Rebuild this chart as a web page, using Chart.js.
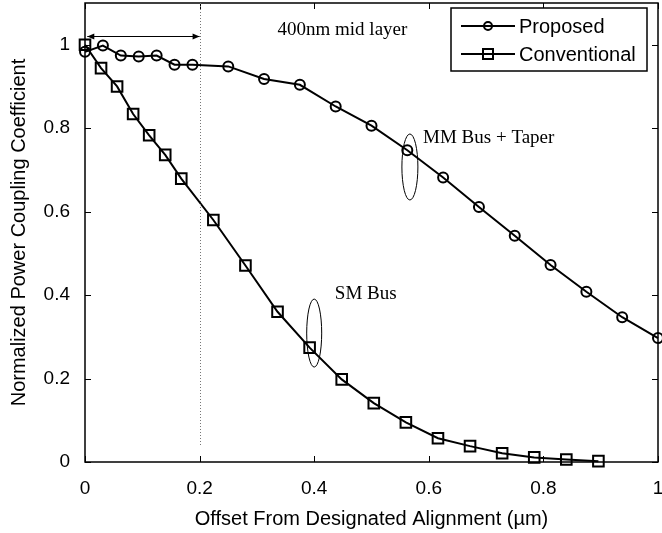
<!DOCTYPE html>
<html>
<head>
<meta charset="utf-8">
<script src="https://cdn.jsdelivr.net/npm/chart.js@4.4.0/dist/chart.umd.min.js"></script>
<style>
html, body { margin: 0; padding: 0; background: #fff; }
#wrap { width: 662px; height: 533px; }
</style>
</head>
<body>
<div id="wrap"><canvas id="couplingChart" width="662" height="533"></canvas></div>
<script>
// Values
const proposedX = [0, 0.03125, 0.0625, 0.09375, 0.125, 0.15625, 0.1875, 0.25, 0.3125, 0.375, 0.4375, 0.5, 0.5625, 0.625, 0.6875, 0.75, 0.8125, 0.875, 0.9375, 1.0];
const proposedY = [0.983, 0.998, 0.974, 0.972, 0.974, 0.952, 0.952, 0.948, 0.918, 0.904, 0.852, 0.806, 0.747, 0.682, 0.611, 0.542, 0.472, 0.408, 0.347, 0.297];
const conventionalX = [0, 0.028, 0.056, 0.084, 0.112, 0.14, 0.168, 0.224, 0.28, 0.336, 0.392, 0.448, 0.504, 0.56, 0.616, 0.672, 0.728, 0.784, 0.84, 0.896];
const conventionalY = [1.0, 0.944, 0.900, 0.834, 0.783, 0.736, 0.679, 0.580, 0.471, 0.360, 0.274, 0.198, 0.141, 0.095, 0.057, 0.038, 0.021, 0.011, 0.006, 0.002];
const xTicks = [0, 0.2, 0.4, 0.6, 0.8, 1];
const yTicks = [0, 0.2, 0.4, 0.6, 0.8, 1];
const seriesNames = ['Proposed', 'Conventional'];

const sansFont = '"Liberation Sans", Arial, sans-serif';
const serifFont = '"Liberation Serif", "Times New Roman", serif';

function toPoints(xs, ys) {
    return xs.map((x, i) => ({ x: x, y: ys[i] }));
}

// Box around the plot area with inward tick marks (MATLAB style)
const boxPlugin = {
    id: 'boxPlugin',
    afterDatasetsDraw(chart) {
        const ctx = chart.ctx;
        const a = chart.chartArea;
        const xs = chart.scales.x;
        const ys = chart.scales.y;
        ctx.save();
        ctx.strokeStyle = '#000';
        ctx.lineWidth = 1.5;
        ctx.strokeRect(a.left, a.top, a.right - a.left, a.bottom - a.top);
        ctx.lineWidth = 1;
        ctx.beginPath();
        xTicks.forEach(v => {
            const px = Math.round(xs.getPixelForValue(v)) + 0.5;
            ctx.moveTo(px, a.bottom); ctx.lineTo(px, a.bottom - 6);
            ctx.moveTo(px, a.top); ctx.lineTo(px, a.top + 6);
        });
        yTicks.forEach(v => {
            const py = Math.round(ys.getPixelForValue(v)) + 0.5;
            ctx.moveTo(a.left, py); ctx.lineTo(a.left + 6, py);
            ctx.moveTo(a.right, py); ctx.lineTo(a.right - 6, py);
        });
        ctx.stroke();
        ctx.restore();
    }
};

// Annotations: offset marker, arrow, labels, ellipses, legend
const notesPlugin = {
    id: 'notesPlugin',
    afterDraw(chart) {
        const ctx = chart.ctx;
        const xs = chart.scales.x;
        const ys = chart.scales.y;
        const a = chart.chartArea;
        const X = v => xs.getPixelForValue(v);
        const Y = v => ys.getPixelForValue(v);
        ctx.save();

        // dotted line at 0.2 um
        ctx.strokeStyle = '#777';
        ctx.lineWidth = 1;
        ctx.setLineDash([1, 2]);
        ctx.beginPath();
        ctx.moveTo(Math.round(X(0.2)) + 0.5, a.top);
        ctx.lineTo(Math.round(X(0.2)) + 0.5, Y(0.037));
        ctx.stroke();
        ctx.setLineDash([]);

        // double arrow
        const ay = Math.round(Y(1.02)) + 0.5;
        const ax1 = X(0.004), ax2 = X(0.2);
        ctx.strokeStyle = '#000';
        ctx.beginPath();
        ctx.moveTo(ax1, ay); ctx.lineTo(ax2, ay);
        ctx.stroke();
        ctx.fillStyle = '#000';
        ctx.beginPath();
        ctx.moveTo(ax1, ay); ctx.lineTo(ax1 + 7, ay - 3); ctx.lineTo(ax1 + 7, ay + 3); ctx.closePath();
        ctx.moveTo(ax2, ay); ctx.lineTo(ax2 - 7, ay - 3); ctx.lineTo(ax2 - 7, ay + 3); ctx.closePath();
        ctx.fill();

        // text labels
        ctx.font = '19px ' + serifFont;
        ctx.textBaseline = 'middle';
        ctx.textAlign = 'left';
        ctx.fillText('400nm mid layer', X(0.336), Y(1.035));
        ctx.fillText('MM Bus + Taper', X(0.59), Y(0.776));
        ctx.fillText('SM Bus', X(0.436), Y(0.402));

        // ellipses
        ctx.lineWidth = 1;
        ctx.beginPath();
        ctx.ellipse(X(0.567), Y(0.707), 8, 33, 0, 0, Math.PI * 2);
        ctx.stroke();
        ctx.beginPath();
        ctx.ellipse(X(0.400), Y(0.309), 7.5, 34, 0, 0, Math.PI * 2);
        ctx.stroke();

        // legend box
        const lx = a.right - 207, ly = a.top + 5, lw = 196, lh = 63;
        ctx.fillStyle = '#fff';
        ctx.fillRect(lx, ly, lw, lh);
        ctx.lineWidth = 1.5;
        ctx.strokeRect(lx, ly, lw, lh);
        ctx.font = '20px ' + sansFont;
        chart.data.datasets.forEach((ds, i) => {
            const cy = ly + 18 + i * 28;
            ctx.strokeStyle = '#000';
            ctx.lineWidth = 2;
            ctx.beginPath();
            ctx.moveTo(lx + 10, cy); ctx.lineTo(lx + 64, cy);
            ctx.stroke();
            ctx.beginPath();
            if (ds.pointStyle === 'circle') {
                ctx.arc(lx + 37, cy, 4, 0, Math.PI * 2);
            } else {
                ctx.rect(lx + 32, cy - 5, 10, 10);
            }
            ctx.stroke();
            ctx.fillStyle = '#000';
            ctx.fillText(ds.label, lx + 68, cy + 1);
        });
        ctx.restore();
    }
};

function createCouplingChart() {
    const ctx = document.getElementById('couplingChart');
    if (!ctx) return;

    new Chart(ctx, {
        type: 'line',
        data: {
            datasets: [{
                label: seriesNames[0],
                data: toPoints(proposedX, proposedY),
                borderColor: '#000',
                borderWidth: 2,
                pointStyle: 'circle',
                pointRadius: 5,
                pointBorderWidth: 2,
                pointBorderColor: '#000',
                pointBackgroundColor: 'rgba(0,0,0,0)',
                tension: 0,
                fill: false,
                clip: false
            }, {
                label: seriesNames[1],
                data: toPoints(conventionalX, conventionalY),
                borderColor: '#000',
                borderWidth: 2,
                pointStyle: 'rect',
                pointRadius: 7.5,
                pointBorderWidth: 2,
                pointBorderColor: '#000',
                pointBackgroundColor: 'rgba(0,0,0,0)',
                tension: 0,
                fill: false,
                clip: false
            }]
        },
        options: {
            responsive: false,
            animation: false,
            events: [],
            layout: {
                autoPadding: false,
                padding: { top: 3, right: 4, left: 0, bottom: 0 }
            },
            plugins: {
                legend: { display: false },
                tooltip: { enabled: false }
            },
            scales: {
                x: {
                    type: 'linear',
                    min: 0,
                    max: 1,
                    afterBuildTicks: scale => { scale.ticks = xTicks.map(v => ({ value: v })); },
                    afterFit: scale => {
                        scale.height = 71;
                        scale.paddingLeft = 0;
                        scale.paddingRight = 0;
                    },
                    grid: { display: false, drawTicks: false },
                    border: { display: false },
                    ticks: {
                        padding: 15,
                        maxRotation: 0,
                        color: '#000',
                        font: { family: sansFont, size: 19 },
                        callback: v => String(v)
                    },
                    title: {
                        display: true,
                        text: 'Offset From Designated Alignment (\u00b5m)',
                        color: '#000',
                        font: { family: sansFont, size: 20 },
                        padding: { top: 0, bottom: 2 }
                    }
                },
                y: {
                    type: 'linear',
                    min: 0,
                    max: 1.1,
                    afterBuildTicks: scale => { scale.ticks = yTicks.map(v => ({ value: v })); },
                    afterFit: scale => {
                        scale.width = 85;
                        scale.paddingTop = 0;
                        scale.paddingBottom = 0;
                    },
                    grid: { display: false, drawTicks: false },
                    border: { display: false },
                    ticks: {
                        padding: 15,
                        color: '#000',
                        font: { family: sansFont, size: 19 },
                        callback: v => String(v)
                    },
                    title: {
                        display: true,
                        text: 'Normalized Power Coupling Coefficient',
                        color: '#000',
                        font: { family: sansFont, size: 20 },
                        padding: { top: 7, bottom: 0 }
                    }
                }
            }
        },
        plugins: [boxPlugin, notesPlugin]
    });
}

document.addEventListener('DOMContentLoaded', createCouplingChart);
</script>
</body>
</html>
